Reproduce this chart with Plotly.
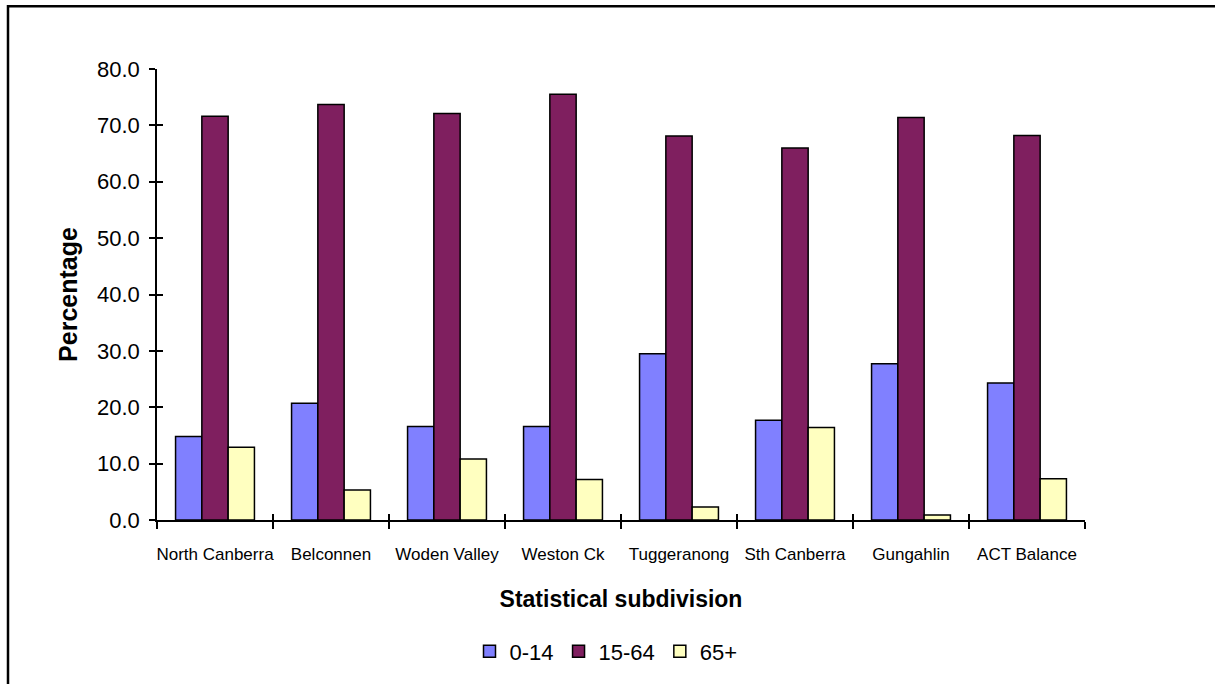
import plotly.graph_objects as go

# Population share by age group for each statistical subdivision
subdivisions = ["North Canberra", "Belconnen", "Woden Valley", "Weston Ck",
                "Tuggeranong", "Sth Canberra", "Gungahlin", "ACT Balance"]
age_0_14 = [14.8, 20.7, 16.6, 16.6, 29.5, 17.7, 27.7, 24.3]
age_15_64 = [71.6, 73.7, 72.1, 75.5, 68.1, 66.0, 71.4, 68.2]
age_65_plus = [12.9, 5.3, 10.8, 7.2, 2.3, 16.4, 0.9, 7.3]
series_names = ["0-14", "15-64", "65+"]
series_colors = ["#8080FF", "#7F1F5F", "#FFFFC0"]
y_ticks = [0, 10, 20, 30, 40, 50, 60, 70, 80]

FONT = "Arial, Liberation Sans, sans-serif"

fig = go.Figure()
for name, vals, col in zip(series_names, [age_0_14, age_15_64, age_65_plus], series_colors):
    fig.add_trace(go.Bar(
        x=subdivisions, y=vals, name=name,
        marker=dict(color=col, line=dict(color="black", width=1.5)),
    ))

W, H = 1215, 684
L, R, T, B = 157, 130, 69, 162
pw, ph = W - L - R, H - T - B

def px_x(x):
    return (x - L) / pw

def px_y(y):
    return (H - B - y) / ph

fig.update_layout(
    width=W, height=H,
    margin=dict(l=L, r=R, t=T, b=B, pad=0),
    paper_bgcolor="white", plot_bgcolor="white",
    barmode="group", bargap=0.32, bargroupgap=0,
    font=dict(family=FONT, color="black"),
    showlegend=True,
    legend=dict(
        orientation="h", xanchor="center", yanchor="middle",
        x=px_x(606), y=px_y(654),
        font=dict(size=22, family=FONT),
        itemclick=False, traceorder="normal",
    ),
    xaxis=dict(
        type="category", showgrid=False, zeroline=False,
        showline=True, linecolor="black", linewidth=1.5,
        ticks="outside", tickson="boundaries", ticklen=7, tickwidth=1.5, tickcolor="black",
        tickangle=0,
        tickfont=dict(size=17, family=FONT), ticklabelstandoff=18,
        title=dict(text="<b>Statistical subdivision</b>", font=dict(size=23, family=FONT), standoff=28),
        range=[-0.5, 7.5],
    ),
    yaxis=dict(
        range=[0, 80], tickvals=y_ticks, tickformat=".1f",
        showgrid=False, zeroline=False,
        showline=True, linecolor="black", linewidth=1.5,
        ticks="outside", ticklen=6, tickwidth=1.5, tickcolor="black",
        tickfont=dict(size=22, family=FONT), ticklabelstandoff=5,
        title=dict(text="<b>Percentage</b>", font=dict(size=25, family=FONT), standoff=12),
    ),
    # overlay axes supply the inner half of the crossing tick marks
    xaxis2=dict(
        overlaying="x", anchor="y", side="bottom", range=[-0.5, 7.5],
        tickvals=[i - 0.5 for i in range(len(subdivisions) + 1)],
        ticks="inside", ticklen=6, tickwidth=1.5, tickcolor="black",
        showticklabels=False, showgrid=False, zeroline=False, showline=False,
    ),
    yaxis2=dict(
        overlaying="y", anchor="x", side="left", range=[0, 80], tickvals=y_ticks,
        ticks="inside", ticklen=6, tickwidth=1.5, tickcolor="black",
        showticklabels=False, showgrid=False, zeroline=False, showline=False,
    ),
)

# invisible trace so the overlay axes get drawn
fig.add_trace(go.Scatter(x=[0], y=[0], xaxis="x2", yaxis="y2", mode="markers",
                         marker=dict(opacity=0), showlegend=False, hoverinfo="skip"))

# chart frame (left and top edges)
fig.add_shape(
    type="path", xref="paper", yref="paper",
    path=f"M {px_x(8)} {px_y(690)} L {px_x(8)} {px_y(6)} L {px_x(1220)} {px_y(6)}",
    line=dict(color="black", width=2.5),
)

fig.write_html("out.html")
